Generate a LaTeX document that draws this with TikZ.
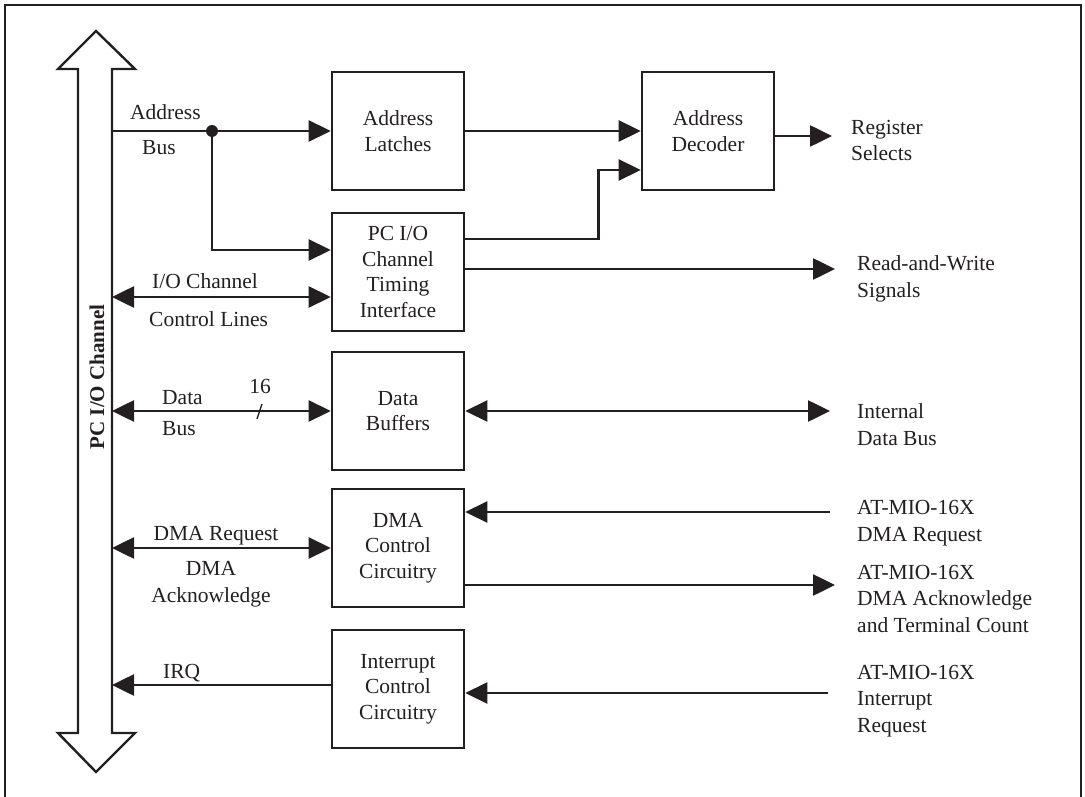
\documentclass[tikz,border=0pt]{standalone}
\usepackage{fontspec}
\setmainfont{Liberation Serif}
\usetikzlibrary{arrows.meta}
\definecolor{ink}{RGB}{35,31,32}
\tikzset{%
    block/.style={draw=ink, line width=2.6pt, minimum width=132pt,
        minimum height=118pt, inner sep=0pt, align=center, text=ink,
        font=\fontsize{21.5}{25.5}\selectfont},
    wire/.style={draw=ink, line width=2.6pt},
    arr/.style={wire, -{Triangle[length=22pt,width=21pt]}},
    darr/.style={wire, {Triangle[length=22pt,width=21pt]}-{Triangle[length=22pt,width=21pt]}},
    lbl/.style={text=ink, inner sep=0pt, align=left, anchor=base west},
    clbl/.style={text=ink, inner sep=0pt, align=center, anchor=base}
}

\begin{document}
\begin{tikzpicture}[x=1pt,y=-1pt,font=\fontsize{21.5}{26.5}\selectfont]
    \useasboundingbox (0,0) rectangle (1085,797);
    \draw[ink,line width=2.4pt] (5,800)--(5,5)--(1081,5)--(1081,800);
%-----------------------------------------------
    \draw[ink,line width=2.4pt,line join=miter]
        (78,733)--(78,69)--(58,69)--(96,31)--(135,69)--(112,69)--(112,733)
        --(135,733)--(96,772)--(58,733)--cycle;
    \coordinate (busR) at (112,0);
    \node[ink,rotate=90,font=\fontsize{21}{24}\selectfont\bfseries] (busname) at (97,377) {PC I/O Channel};
%-----------------------------------------------
    \node[block] (latch) at (398,131) {Address\\Latches};
    \node[block] (pcio) at (398,272) {PC I/O\\Channel\\Timing\\Interface};
    \node[block] (dbuf) at (398,411) {Data\\Buffers};
    \node[block] (dma) at (398,548) {DMA\\Control\\Circuitry};
    \node[block] (intr) at (398,689) {Interrupt\\Control\\Circuitry};
    \node[block] (dec) at (708,131) {Address\\Decoder};
%-----------------------------------------------
    \coordinate (adot) at (212,131);
    \coordinate (ioR) at ([yshift=-25pt]pcio.west);
    \coordinate (dreqL) at ([yshift=36pt]dma.east);
    \coordinate (dackL) at ([yshift=-37pt]dma.east);
    \coordinate (irqL) at ([yshift=4pt]intr.west);
    \coordinate (ireqL) at ([yshift=-4pt]intr.east);
    \coordinate (regEnd) at (832,136);
    \coordinate (rwEnd) at (835,269);
    \coordinate (idbEnd) at (830,411);
    \coordinate (dreqEnd) at (830,512);
    \coordinate (dackEnd) at (835,585);
    \coordinate (ireqEnd) at (828,693);
%-----------------------------------------------
    \draw[arr] (busR |- latch.west) -- (latch.west);
    \fill[ink] (adot) circle (6pt);
    \draw[arr] (adot) |- ([yshift=22pt]pcio.west);
    \draw[arr] (latch.east) -- (dec.west);
    \draw[arr] ([yshift=33pt]pcio.east) -- ++(133,0) |- ([yshift=-39pt]dec.west);
    \draw[arr] ([yshift=-5pt]dec.east) -- (regEnd);
    \draw[arr] ([yshift=3pt]pcio.east) -- (rwEnd);
    \draw[darr] (busR |- ioR) -- (ioR);
    \draw[darr] (busR |- dbuf.west) -- (dbuf.west);
    \draw[ink,line width=1.4pt] (257,419)--(262,404);
    \draw[darr] (dbuf.east) -- (idbEnd);
    \draw[darr] (busR |- dma.west) -- (dma.west);
    \draw[arr] (dreqEnd) -- (dreqL);
    \draw[arr] (dackL) -- (dackEnd);
    \draw[arr] (irqL) -- (busR |- irqL);
    \draw[arr] (ireqEnd) -- (ireqL);
%-----------------------------------------------
    \node[lbl] (t1) at (130,120) {Address};
    \node[lbl] (t2) at (142,155) {Bus};
    \node[lbl] (t3) at (152,288) {I/O Channel};
    \node[lbl] (t4) at (149,326) {Control Lines};
    \node[lbl] (t5) at (162,404) {Data};
    \node[lbl] (t6) at (162,435) {Bus};
    \node[clbl] (t7) at (260,393) {16};
    \node[clbl] (t8) at (216,540) {DMA Request};
    \node[clbl] (t9) at (211,602) {DMA\\Acknowledge};
    \node[lbl] (t10) at (163,678) {IRQ};
%-----------------------------------------------
    % multi-line labels sit on their last baseline
    \node[lbl] (r1) at (851,161) {Register\\Selects};
    \node[lbl] (r2) at (857,297) {Read-and-Write\\Signals};
    \node[lbl] (r3) at (857,445) {Internal\\Data Bus};
    \node[lbl] (r4) at (857,541) {AT-MIO-16X\\DMA Request};
    \node[lbl] (r5) at (857,632) {AT-MIO-16X\\DMA Acknowledge\\and Terminal Count};
    \node[lbl] (r6) at (857,732) {AT-MIO-16X\\Interrupt\\Request};
\end{tikzpicture}
\end{document}
